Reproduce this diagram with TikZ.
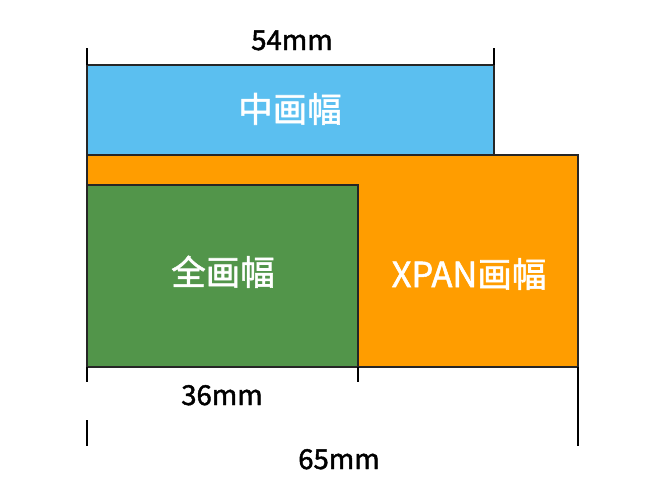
\documentclass[tikz,border=0pt]{standalone}
\usepackage{fontspec}
\setmainfont{Noto Sans CJK SC}
\newfontfamily\medfont{Noto Sans CJK SC}[FakeBold=1.6]
\definecolor{midblue}{HTML}{5BBFF0}
\definecolor{xorange}{HTML}{FF9D00}
\definecolor{fgreen}{HTML}{52954A}
\begin{document}
\begin{tikzpicture}[x=1pt,y=-1pt,
  frame/.style={draw=black!85,line width=1.3pt},
  tick/.style={draw=black,line width=1.3pt},
  dimlabel/.style={font=\medfont\fontsize{27.5}{30}\selectfont,anchor=base,inner sep=0pt},
  arealabel/.style={font=\medfont\fontsize{34.5}{38}\selectfont,text=white,anchor=base,inner sep=0pt}]
\useasboundingbox (0,0) rectangle (660,491);
\fill[white] (0,0) rectangle (660,491);
\draw[frame,fill=midblue] (87,65) rectangle (494,155);
\draw[frame,fill=xorange] (87,155) rectangle (578,367);
\draw[frame,fill=fgreen] (87,185) rectangle (358,367);
\coordinate (t1a) at (87,48); \coordinate (t1b) at (87,65);
\coordinate (t2a) at (494,48); \coordinate (t2b) at (494,65);
\coordinate (t3a) at (87,367); \coordinate (t3b) at (87,382);
\coordinate (t4a) at (358,367); \coordinate (t4b) at (358,382);
\coordinate (t5a) at (87,420); \coordinate (t5b) at (87,446);
\coordinate (t6a) at (578,367); \coordinate (t6b) at (578,446);
\draw[tick] (t1a) -- (t1b);
\draw[tick] (t2a) -- (t2b);
\draw[tick] (t3a) -- (t3b);
\draw[tick] (t4a) -- (t4b);
\draw[tick] (t5a) -- (t5b);
\draw[tick] (t6a) -- (t6b);
\node[dimlabel] (d54) at (292,50) {54mm};
\node[dimlabel] (d36) at (222,405) {36mm};
\node[dimlabel] (d65) at (339,469) {65mm};
\node[arealabel] (mid) at (290,122) {中画幅};
\node[arealabel] (full) at (223,285) {全画幅};
\node[arealabel] (xpan) at (469,287) {XPAN画幅};
\end{tikzpicture}
\end{document}
